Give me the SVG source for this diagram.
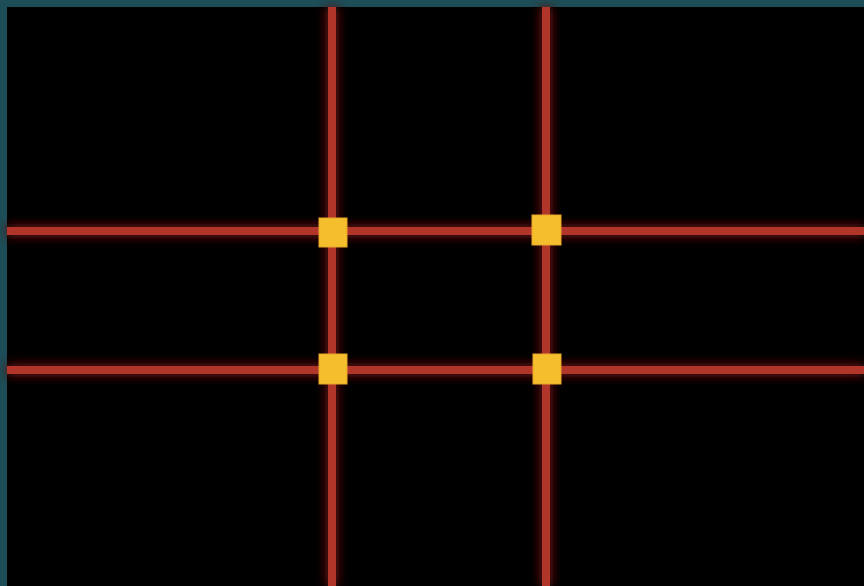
<svg xmlns="http://www.w3.org/2000/svg" width="864" height="586" viewBox="0 0 864 586">
<defs>
<filter id="glow" x="-10%" y="-10%" width="120%" height="120%">
<feGaussianBlur in="SourceGraphic" stdDeviation="5"/>
</filter>
<style>
.ln{stroke:#b2352a;stroke-width:8;fill:none}
.gl{stroke:#6a120e;stroke-width:14;fill:none;opacity:0.8}
.sq{fill:#f4be2c;stroke:#e8a82a;stroke-width:1}
</style>
</defs>
<rect width="864" height="586" fill="#1d4d56"/>
<rect x="7" y="7" width="857" height="579" fill="#000"/>
<g id="connectors">
<g filter="url(#glow)">
<line class="gl" x1="7" y1="231" x2="864" y2="231"/>
<line class="gl" x1="7" y1="370" x2="864" y2="370"/>
<line class="gl" x1="332" y1="7" x2="332" y2="586"/>
<line class="gl" x1="546" y1="7" x2="546" y2="586"/>
</g>
<line class="ln" x1="7" y1="231" x2="864" y2="231"/>
<line class="ln" x1="7" y1="370" x2="864" y2="370"/>
<line class="ln" x1="332" y1="7" x2="332" y2="586"/>
<line class="ln" x1="546" y1="7" x2="546" y2="586"/>
</g>
<g id="tl"><rect class="sq" x="319" y="218" width="28" height="29"/></g>
<g id="tr"><rect class="sq" x="532" y="215" width="29" height="30"/></g>
<g id="bl"><rect class="sq" x="319" y="354" width="28" height="30"/></g>
<g id="br"><rect class="sq" x="533" y="354" width="28" height="30"/></g>
</svg>
